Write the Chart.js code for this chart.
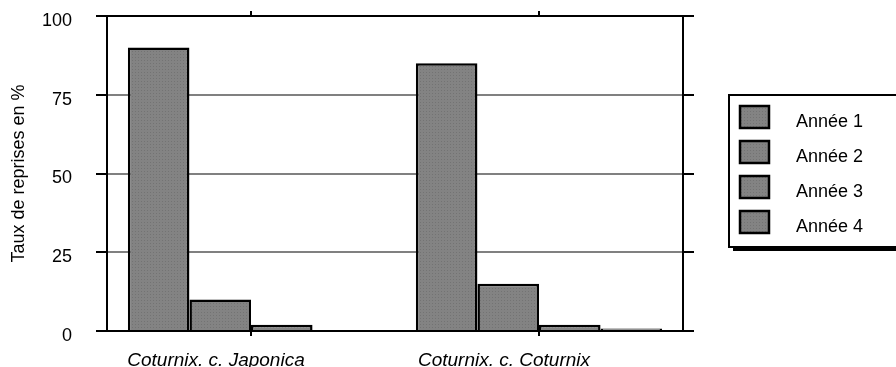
<!DOCTYPE html>
<html lang="fr">
<head>
<meta charset="UTF-8">
<script src="https://cdn.jsdelivr.net/npm/chart.js"></script>
<title>Taux de reprises</title>
<style>
  html, body { margin: 0; padding: 0; background: #fff; }
  #box { width: 896px; height: 367px; }
</style>
</head>
<body>
<div id="box"><canvas id="graphique"></canvas></div>
<script>
  // donnees
  const categories = ['Coturnix. c. Japonica', 'Coturnix. c. Coturnix'];
  const annees = ['Année 1', 'Année 2', 'Année 3', 'Année 4'];
  const annee1 = [90, 85];
  const annee2 = [10, 15];
  const annee3 = [2, 2];
  const annee4 = [0, 0.8];
  const yTicks = [0, 25, 50, 75, 100];

  // petite trame grise pour les barres
  function trame() {
    const c = document.createElement('canvas');
    c.width = 3; c.height = 3;
    const g = c.getContext('2d');
    g.fillStyle = '#838383';
    g.fillRect(0, 0, 3, 3);
    g.fillStyle = '#737373';
    g.fillRect(0, 0, 1, 1);
    return g.createPattern(c, 'repeat');
  }
  const gris = trame();

  const series = [annee1, annee2, annee3, annee4];
  const datasets = series.map(function (valeurs, i) {
    return {
      label: annees[i],
      data: valeurs,
      backgroundColor: gris,
      borderColor: '#000',
      borderWidth: 2.5,
      categoryPercentage: 0.855,
      barPercentage: 1.0
    };
  });

  // legende encadree a droite
  const legendeBoite = {
    id: 'legendeBoite',
    afterDraw(chart) {
      const ctx = chart.ctx;
      ctx.save();
      // ombre
      ctx.fillStyle = '#000';
      ctx.fillRect(733, 247, 170, 4);
      ctx.fillStyle = '#fff';
      ctx.fillRect(729, 95, 170, 152);
      ctx.strokeStyle = '#000';
      ctx.lineWidth = 2;
      ctx.strokeRect(729, 95, 170, 152);
      ctx.font = '18px "Liberation Sans", Arial, sans-serif';
      ctx.textBaseline = 'alphabetic';
      chart.data.datasets.forEach(function (ds, i) {
        const y = 105 + i * 35;
        ctx.fillStyle = gris;
        ctx.fillRect(739, y, 31, 24);
        ctx.lineWidth = 2.5;
        ctx.strokeRect(740, y + 1, 29, 22);
        ctx.fillStyle = '#000';
        ctx.fillText(ds.label, 796, y + 22);
      });
      ctx.restore();
    }
  };

  const police = '"Liberation Sans", Arial, sans-serif';

  function sansMarge(s) {
    s.paddingTop = 0;
    s.paddingBottom = 0;
  }

  new Chart(document.getElementById('graphique'), {
    type: 'bar',
    data: { labels: categories, datasets: datasets },
    options: {
      responsive: true,
      maintainAspectRatio: false,
      animation: false,
      layout: { padding: 0 },
      plugins: {
        legend: { display: false },
        tooltip: { enabled: false }
      },
      scales: {
        x: {
          position: 'bottom',
          z: 1,
          afterFit: function (s) { s.height = 36; s.paddingLeft = 0; s.paddingRight = 0; },
          grid: { offset: false, drawOnChartArea: false, tickLength: 5, tickColor: '#000', lineWidth: 2 },
          border: { color: '#000', width: 2 },
          ticks: {
            color: '#000',
            padding: 13,
            labelOffset: -35,
            maxRotation: 0,
            font: { family: police, size: 19, style: 'italic' }
          }
        },
        xHaut: {
          type: 'category',
          position: 'top',
          z: 1,
          afterFit: function (s) { s.height = 16; s.paddingLeft = 0; s.paddingRight = 0; },
          grid: { offset: false, drawOnChartArea: false, tickLength: 5, tickColor: '#000', lineWidth: 2 },
          border: { color: '#000', width: 2 },
          ticks: { display: false }
        },
        y: {
          position: 'left',
          min: 0,
          max: 100,
          afterFit: function (s) { s.width = 107; sansMarge(s); },
          afterBuildTicks: function (s) { s.ticks = yTicks.map(v => ({ value: v })); },
          grid: { color: '#808080', lineWidth: 2, tickLength: 11, tickColor: '#000' },
          border: { color: '#000', width: 2 },
          ticks: {
            color: '#000',
            padding: 24,
            labelOffset: 5,
            font: { family: police, size: 18 }
          },
          title: {
            display: true,
            text: 'Taux de reprises en %',
            color: '#000',
            padding: { top: 8, bottom: 0 },
            font: { family: police, size: 18 }
          }
        },
        yDroite: {
          position: 'right',
          min: 0,
          max: 100,
          afterFit: function (s) { s.width = 213; sansMarge(s); },
          afterBuildTicks: function (s) { s.ticks = yTicks.map(v => ({ value: v })); },
          grid: { drawOnChartArea: false, lineWidth: 2, tickLength: 11, tickColor: '#000' },
          border: { color: '#000', width: 2 },
          ticks: { display: false }
        }
      }
    },
    plugins: [legendeBoite]
  });
</script>
</body>
</html>
